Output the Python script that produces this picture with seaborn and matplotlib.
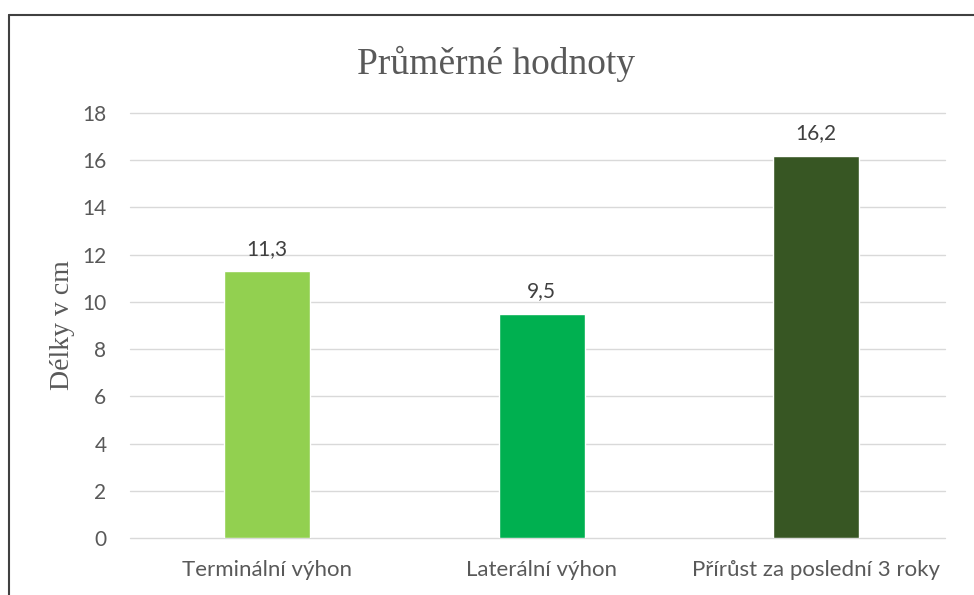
import matplotlib
matplotlib.use("Agg")
import matplotlib.pyplot as plt
import seaborn as sns
import pandas as pd
from matplotlib.lines import Line2D

# chart data
categories = ["Terminální výhon", "Laterální výhon", "Přírůst za poslední 3 roky"]
values = [11.3, 9.5, 16.2]
colors = ["#92D050", "#00B050", "#375623"]
y_ticks = [0, 2, 4, 6, 8, 10, 12, 14, 16, 18]

df = pd.DataFrame({"kategorie": categories, "delka": values})

sns.set_theme(style="white")
plt.rcParams["font.family"] = ["Lato", "DejaVu Sans"]

fig = plt.figure(figsize=(9.74, 5.95), dpi=100)
ax = fig.add_axes([0.1335, 0.0958, 0.8368, 0.7142])

sns.barplot(data=df, x="kategorie", y="delka", hue="kategorie",
            palette=colors, width=0.313, legend=False, ax=ax, saturation=1)

ax.set_xlim(-0.5, 2.47)
ax.set_ylim(0, 18)
ax.set_yticks(y_ticks)
ax.yaxis.grid(True, color="#d9d9d9", linewidth=1)
for gl in ax.get_ygridlines():
    gl.set_clip_on(False)
ax.set_axisbelow(True)
for s in ax.spines.values():
    s.set_visible(False)
ax.tick_params(axis="both", length=0, colors="#595959", labelsize=15)
ax.tick_params(axis="x", labelsize=16, pad=16)
ax.tick_params(axis="y", pad=17)
ax.set_xlabel("")
ax.set_ylabel("Délky v cm", family=["Liberation Serif", "DejaVu Serif"],
              fontsize=20, color="#595959")
ax.yaxis.set_label_coords(-0.068, 0.5)

# data labels
for cont in ax.containers:
    ax.bar_label(cont, labels=[f"{v:.1f}".replace(".", ",") for v in cont.datavalues],
                 padding=9, fontsize=15, color="#404040")

fig.text(0.509, 0.893, "Průměrné hodnoty", ha="center", va="center",
         family=["Liberation Serif", "DejaVu Serif"], fontsize=27, color="#595959")

# frame of the chart object (top and left edge)
fig.add_artist(Line2D([0.0092, 1.0], [0.975, 0.975], color="#404040", linewidth=1.5,
                      transform=fig.transFigure))
fig.add_artist(Line2D([0.0092, 0.0092], [0.0, 0.975], color="#404040", linewidth=1.5,
                      transform=fig.transFigure))

fig.savefig("out.png", dpi=100)
